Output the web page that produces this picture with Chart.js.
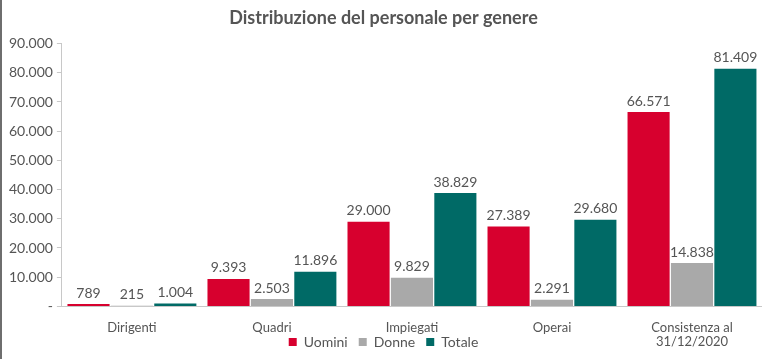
<!DOCTYPE html>
<html>
<head>
<meta charset="utf-8">
<script src="https://cdn.jsdelivr.net/npm/chart.js@4/dist/chart.umd.min.js"></script>
<style>
  html, body { margin: 0; padding: 0; background: #fff; }
  #wrap { position: relative; width: 760px; height: 359px; border-left: 2px solid #6e6e6e; }
</style>
</head>
<body>
<div id="wrap"><canvas id="c" width="760" height="359"></canvas></div>
<script>
const categories = ["Dirigenti", "Quadri", "Impiegati", "Operai", ["Consistenza al", "31/12/2020"]];
const uomini = [789, 9393, 29000, 27389, 66571];
const donne = [215, 2503, 9829, 2291, 14838];
const totale = [1004, 11896, 38829, 29680, 81409];
const seriesNames = ["Uomini", "Donne", "Totale"];
const yTicks = [0, 10000, 20000, 30000, 40000, 50000, 60000, 70000, 80000, 90000];

function fmt(v) {
  if (v === 0) return "-";
  return String(Math.round(v)).replace(/\B(?=(\d{3})+(?!\d))/g, ".");
}

const FONT = "Lato, 'Open Sans', sans-serif";
const TXT = "#555555";
const LEGEND_SHIFT = 31;

const valueLabels = {
  id: "valueLabels",
  afterDatasetsDraw(chart) {
    const ctx = chart.ctx;
    ctx.save();
    ctx.font = "14px " + FONT;
    ctx.fillStyle = TXT;
    ctx.textAlign = "center";
    ctx.textBaseline = "bottom";
    chart.data.datasets.forEach((ds, i) => {
      const meta = chart.getDatasetMeta(i);
      meta.data.forEach((bar, j) => {
        ctx.fillText(fmt(ds.data[j]), bar.x, bar.y - 4);
      });
    });
    ctx.restore();
  }
};

// lets the legend sit beside the second line of the last category label, as in the original
const liftLegend = {
  id: "liftLegend",
  afterLayout(chart) {
    const lg = chart.legend;
    if (lg) { lg.top -= LEGEND_SHIFT; lg.bottom -= LEGEND_SHIFT; }
  }
};

new Chart(document.getElementById("c"), {
  type: "bar",
  data: {
    labels: categories,
    datasets: [
      { label: seriesNames[0], data: uomini, backgroundColor: "#d7002e" },
      { label: seriesNames[1], data: donne, backgroundColor: "#a9a9a9" },
      { label: seriesNames[2], data: totale, backgroundColor: "#006a66" }
    ]
  },
  options: {
    responsive: false,
    animation: false,
    layout: { padding: { left: 3, right: 0, top: 3, bottom: -LEGEND_SHIFT } },
    datasets: { bar: { categoryPercentage: 0.93, barPercentage: 0.97 } },
    plugins: {
      title: {
        display: true,
        text: "Distribuzione del personale per genere",
        color: TXT,
        font: { family: FONT, size: 18, weight: "bold" },
        padding: { top: 4, bottom: 15 }
      },
      legend: {
        position: "bottom",
        labels: {
          color: TXT,
          font: { family: FONT, size: 14 },
          boxWidth: 8,
          boxHeight: 8,
          padding: 11
        }
      },
      tooltip: { enabled: false }
    },
    scales: {
      x: {
        grid: { display: false },
        border: { color: "#c8c8c8", width: 1 },
        ticks: { color: TXT, font: { family: FONT, size: 13, lineHeight: 1.1 }, padding: 6, maxRotation: 0 }
      },
      y: {
        min: 0,
        max: 90000,
        afterBuildTicks(scale) { scale.ticks = yTicks.map(v => ({ value: v })); },
        grid: { drawOnChartArea: false, drawTicks: true, tickLength: 5, color: "#c8c8c8" },
        border: { color: "#c8c8c8", width: 1 },
        ticks: { color: TXT, font: { family: FONT, size: 14 }, padding: 4, callback: v => fmt(v) }
      }
    }
  },
  plugins: [valueLabels, liftLegend]
});
</script>
</body>
</html>
